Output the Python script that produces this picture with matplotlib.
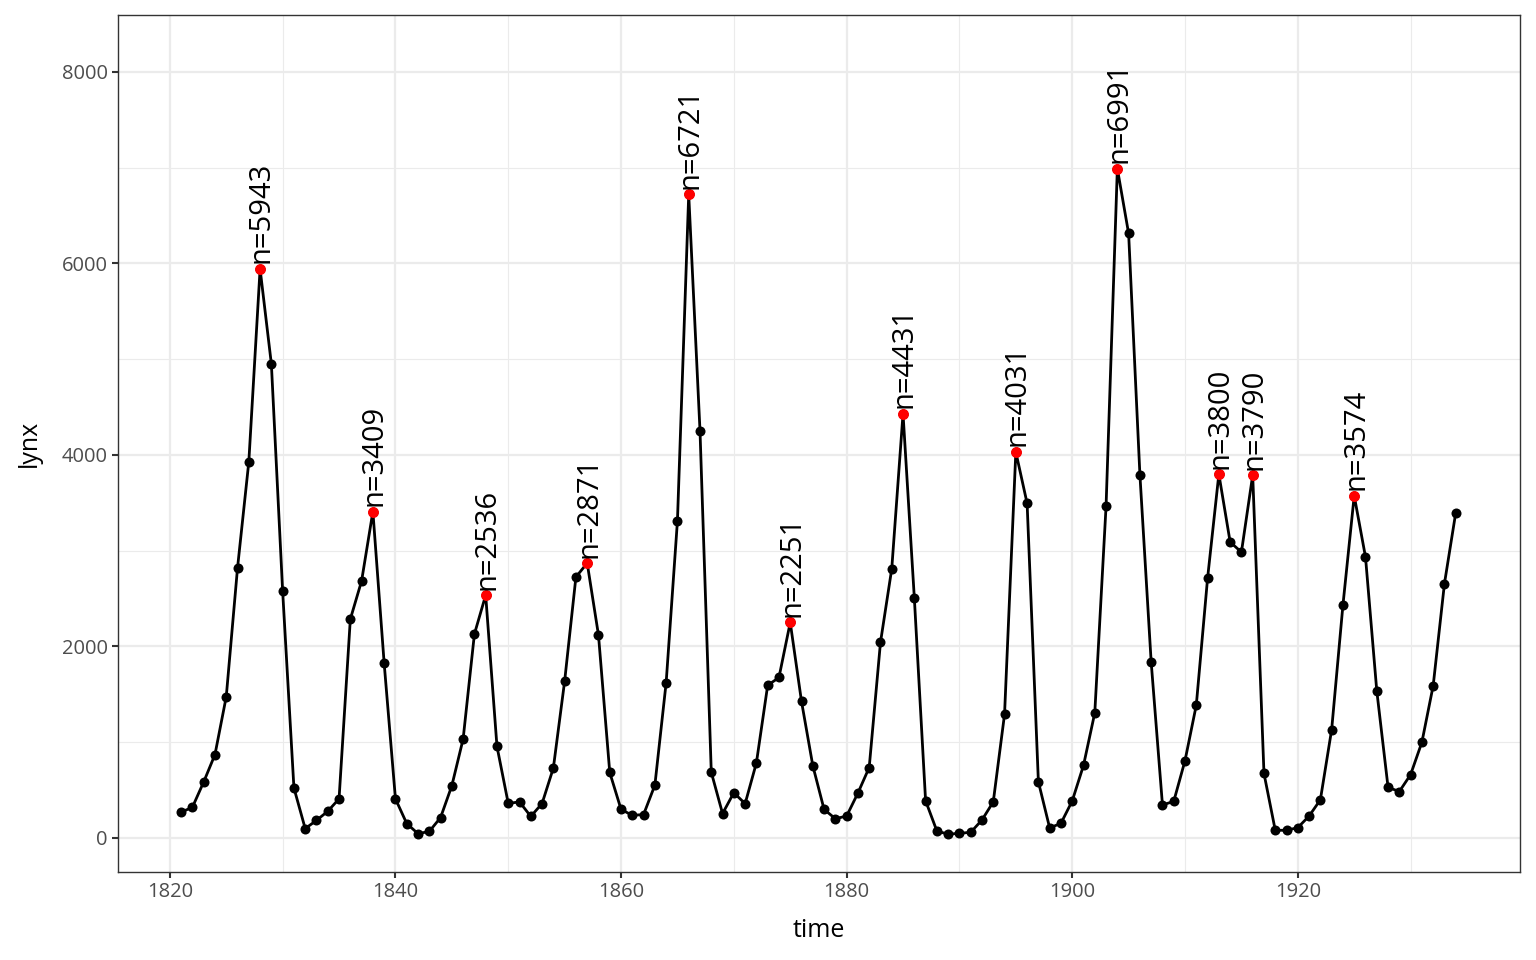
import numpy as np
import matplotlib
matplotlib.use('Agg')
import matplotlib.pyplot as plt

plt.rcParams['font.family'] = ['Open Sans', 'DejaVu Sans']

years = list(range(1821, 1935))
lynx = [269, 321, 585, 871, 1475, 2821, 3928, 5943, 4950, 2577,
        523, 98, 184, 279, 409, 2285, 2685, 3409, 1824, 409,
        151, 45, 68, 213, 546, 1033, 2129, 2536, 957, 361,
        377, 225, 360, 731, 1638, 2725, 2871, 2119, 684, 299,
        236, 245, 552, 1623, 3311, 6721, 4254, 687, 255, 473,
        358, 784, 1594, 1676, 2251, 1426, 756, 299, 201, 229,
        469, 736, 2042, 2811, 4431, 2511, 389, 73, 39, 49,
        59, 188, 377, 1292, 4031, 3495, 587, 105, 153, 387,
        758, 1307, 3465, 6991, 6313, 3794, 1836, 345, 382, 808,
        1388, 2713, 3800, 3091, 2985, 3790, 674, 81, 80, 108,
        229, 399, 1132, 2432, 3574, 2935, 1537, 529, 485, 662,
        1000, 1590, 2657, 3396]

peak_years = [1828, 1838, 1848, 1857, 1866, 1875, 1885, 1895, 1904, 1913, 1916, 1925]
peak_vals = [lynx[years.index(y)] for y in peak_years]

fig = plt.figure(figsize=(15.36, 9.6), dpi=100)
ax = fig.add_axes([0.0768, 0.0917, 0.9128, 0.8927])

# grid like theme_bw
for v in range(1830, 1940, 20):
    ax.axvline(v, color='#ebebeb', lw=0.8, zorder=0)
for v in range(1000, 9000, 2000):
    ax.axhline(v, color='#ebebeb', lw=0.8, zorder=0)
for v in range(1820, 1940, 20):
    ax.axvline(v, color='#ebebeb', lw=1.6, zorder=0)
for v in range(0, 9000, 2000):
    ax.axhline(v, color='#ebebeb', lw=1.6, zorder=0)

ax.plot(years, lynx, color='black', lw=2.0, zorder=2)
ax.scatter(years, lynx, s=52, color='black', zorder=3, linewidths=0)
ax.scatter(peak_years, peak_vals, s=62, color='red', zorder=4, linewidths=0)

for x, y in zip(peak_years, peak_vals):
    ax.annotate('n=%d' % y, (x, y), xytext=(1, 4), textcoords='offset points',
                rotation=90, ha='center', va='bottom', fontsize=21, color='black', zorder=5)

ax.set_xlim(1815.4, 1939.7)
ax.set_ylim(-355, 8595)
ax.set_xticks([1820, 1840, 1860, 1880, 1900, 1920])
ax.set_yticks([0, 2000, 4000, 6000, 8000])
ax.tick_params(axis='both', colors='#333333', labelcolor='#4d4d4d', labelsize=14.5, length=4, width=1.5)
for s in ax.spines.values():
    s.set_color('#333333')
    s.set_linewidth(1.0)

ax.set_xlabel('time', fontsize=18, labelpad=11)
ax.set_ylabel('lynx', fontsize=18, labelpad=14)

fig.savefig('out.png', dpi=100)
